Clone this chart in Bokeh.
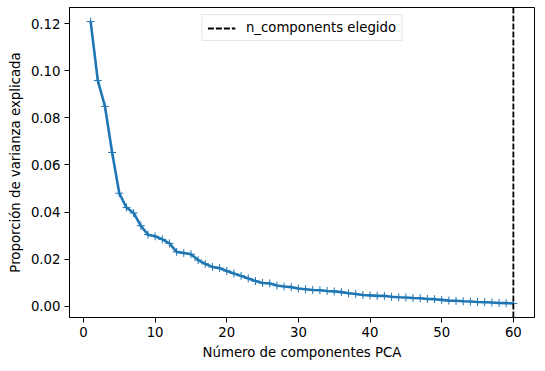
from bokeh.plotting import figure
from bokeh.models import Range1d, FixedTicker, NumeralTickFormatter, Legend, LegendItem
from bokeh.embed import file_html
from bokeh.resources import INLINE

components = list(range(1, 61))
variance_ratio = [
    0.1209, 0.0959, 0.0849, 0.0653, 0.0480, 0.0419, 0.0396, 0.0342, 0.0304, 0.0297,
    0.0284, 0.0267, 0.0231, 0.0226, 0.0221, 0.0196, 0.0180, 0.0167, 0.0162, 0.0150,
    0.0139, 0.0129, 0.0118, 0.0107, 0.0099, 0.0097, 0.0088, 0.0084, 0.0081, 0.0075,
    0.0072, 0.0069, 0.0068, 0.0065, 0.0063, 0.0060, 0.0055, 0.0052, 0.0048, 0.0046,
    0.0044, 0.0044, 0.0040, 0.0038, 0.0037, 0.0035, 0.0034, 0.0031, 0.0030, 0.0027,
    0.0024, 0.0023, 0.0021, 0.0020, 0.0018, 0.0017, 0.0016, 0.0014, 0.0013, 0.0012,
]
n_chosen = 60
x_ticks = [0, 10, 20, 30, 40, 50, 60]
y_ticks = [0.00, 0.02, 0.04, 0.06, 0.08, 0.10, 0.12]
legend_text = "n_components elegido"
x_label = "Número de componentes PCA"
y_label = "Proporción de varianza explicada"

FONT = "DejaVu Sans"

xmin, xmax = min(components), max(components)
xpad = 0.05 * (xmax - xmin)
ymin, ymax = min(variance_ratio), max(variance_ratio)
ypad = 0.05 * (ymax - ymin)
y0, y1 = ymin - ypad, ymax + ypad

p = figure(
    output_backend="svg", toolbar_location=None,
    frame_width=465, frame_height=310,
    min_border_left=69, min_border_top=7, min_border_right=1, min_border_bottom=42,
    x_range=Range1d(xmin - xpad, xmax + xpad),
    y_range=Range1d(y0, y1),
)
p.background_fill_color = "white"
p.border_fill_color = "white"
p.outline_line_color = "black"
p.outline_line_width = 1
p.grid.visible = False

for ax in (p.xaxis[0], p.yaxis[0]):
    ax.axis_line_color = "black"
    ax.major_tick_line_color = "black"
    ax.major_tick_out = 5
    ax.major_tick_in = 0
    ax.minor_tick_line_color = None
    ax.major_label_text_font = FONT
    ax.major_label_text_font_size = "13.3px"
    ax.major_label_text_color = "black"
    ax.axis_label_text_font = FONT
    ax.axis_label_text_font_size = "13.3px"
    ax.axis_label_text_font_style = "normal"
    ax.axis_label_text_color = "black"
    ax.major_label_standoff = 4
    ax.axis_label_standoff = 5

p.xaxis.ticker = FixedTicker(ticks=x_ticks)
p.yaxis.ticker = FixedTicker(ticks=y_ticks)
p.yaxis.formatter = NumeralTickFormatter(format="0.00")
p.xaxis.axis_label = x_label
p.yaxis.axis_label = y_label

p.line(components, variance_ratio, line_color="#1f77b4", line_width=2.6)
p.scatter(components, variance_ratio, marker="cross", size=8, line_color="#1f77b4", line_width=1)

vl = p.line([n_chosen, n_chosen], [y0, y1], line_color="black", line_width=1.8, line_dash="6 2")

legend = Legend(items=[LegendItem(label=legend_text, renderers=[vl])], location="top_center")
legend.label_text_font = FONT
legend.label_text_font_size = "13.3px"
legend.label_text_color = "black"
legend.glyph_width = 28
legend.glyph_height = 14
legend.label_height = 14
legend.label_standoff = 11
legend.padding = 5
legend.margin = 7
legend.border_line_color = "#cccccc"
legend.border_line_width = 1
legend.background_fill_alpha = 0.8
p.add_layout(legend)

open("out.html", "w").write(file_html(p, INLINE))
